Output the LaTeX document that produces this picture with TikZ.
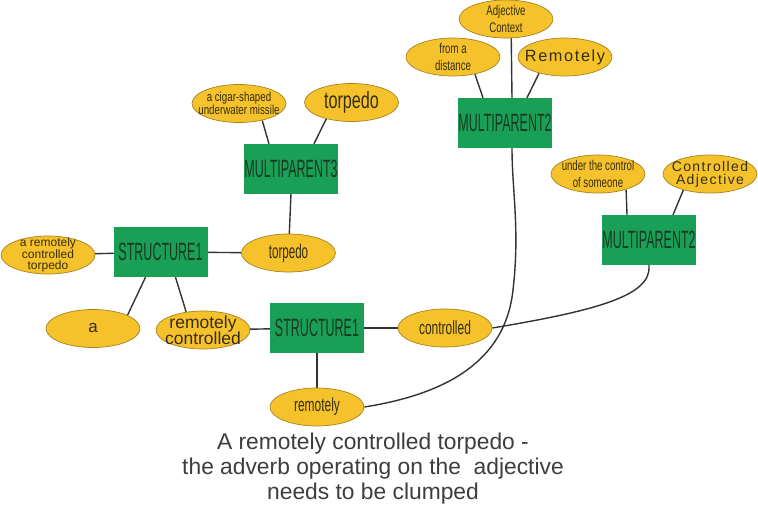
\documentclass[tikz,border=0pt]{standalone}
\usepackage{fontspec}
\setmainfont{Liberation Sans}
\newfontfamily\nA[FakeStretch=0.5]{Liberation Sans}
\newfontfamily\nB[FakeStretch=0.58]{Liberation Sans}
\newfontfamily\nC[FakeStretch=0.63]{Liberation Sans}
\newfontfamily\nD[FakeStretch=0.69]{Liberation Sans}
\newfontfamily\nE[FakeStretch=0.75]{Liberation Sans}
\newfontfamily\wideLS[LetterSpace=10]{Liberation Sans}
\usetikzlibrary{shapes.geometric,backgrounds}
\definecolor{boxgreen}{HTML}{1A9F56}
\definecolor{boxtext}{HTML}{183A22}
\definecolor{ellfill}{HTML}{F5C22C}
\definecolor{elldraw}{HTML}{A5821E}
\definecolor{elltext}{HTML}{362E0E}
\definecolor{linec}{HTML}{333333}
\definecolor{captext}{HTML}{3D3D3D}
\begin{document}
\begin{tikzpicture}[x=1pt,y=-1pt,
  box/.style={rectangle, fill=boxgreen, minimum width=94pt, minimum height=50pt, inner sep=0pt, text=boxtext, font=\nA\fontsize{25}{25}\selectfont},
  ell/.style={ellipse, fill=ellfill, draw=elldraw, line width=0.7pt, minimum width=94pt, minimum height=38pt, inner sep=-30pt, text=elltext, align=center},
  link/.style={draw=linec, line width=1.4pt}]
\useasboundingbox (0,0) rectangle (758,515);
% boxes
\node[box] (S1L) at (160.5,252) {STRUCTURE1};
\node[box] (MP3) at (291,169) {MULTIPARENT3};
\node[box] (MP2a) at (505,123) {MULTIPARENT2};
\node[box] (MP2b) at (649,240) {MULTIPARENT2};
\node[box] (S1B) at (317,328) {STRUCTURE1};
% ellipses
\node[ell, font=\fontsize{12}{11.5}\selectfont] (L1) at (48,255) {a remotely\\controlled\\torpedo};
\node[ell, font=\fontsize{17}{17}\selectfont] (A) at (93,328.5) {a};
\node[ell, font=\fontsize{17.5}{16.5}\selectfont] (RC) at (203,330) {remotely\\controlled};
\node[ell, font=\nB\fontsize{20}{20}\selectfont] (TM) at (288.5,253) {torpedo};
\node[ell, font=\nE\fontsize{13}{13}\selectfont] (CIG) at (239,103.5) {a cigar-shaped\\underwater missile};
\node[ell, font=\nD\fontsize{23.5}{23.5}\selectfont] (TT) at (351.5,102.5) {torpedo};
\node[ell, font=\nD\fontsize{14}{17}\selectfont] (AC) at (506,19) {Adjective\\Context};
\node[ell, font=\nD\fontsize{14}{17}\selectfont] (FD) at (453,57) {from a\\distance};
\node[ell, font=\wideLS\fontsize{16.3}{16.3}\selectfont] (REM) at (565,57) {Remotely};
\node[ell, font=\nD\fontsize{14}{16.5}\selectfont] (UC) at (598,174) {under the control\\of someone};
\node[ell, font=\wideLS\fontsize{14}{13}\selectfont] (CA) at (710,174) {Controlled\\Adjective};
\node[ell, font=\nC\fontsize{19}{19}\selectfont] (CTL) at (445,328) {controlled};
\node[ell, font=\nC\fontsize{19}{19}\selectfont] (REMB) at (317,407) {remotely};
% caption
\node[align=center, text=captext, font=\fontsize{22.8}{25}\selectfont] (CAP) at (373,469) {A remotely controlled torpedo -\\the adverb operating on the\ \ adjective\\needs to be clumped};
% connectors
\begin{scope}[on background layer]
\fill[white] (0,0) rectangle (758,515);
\draw[link] (L1.center) -- (S1L.center);
\draw[link] (S1L.center) -- (TM.center);
\draw[link] ([xshift=-15pt]S1L.south) -- (A.21);
\draw[link] ([xshift=15pt]S1L.south) -- (RC.133);
\draw[link] (RC.center) -- (S1B.center);
\draw[link] (S1B.center) -- (CTL.center);
\draw[link] (S1B.center) -- (REMB.center);
\draw[link] ([xshift=1pt]MP3.center) -- (TM.center);
\draw[link] ([xshift=-22pt]MP3.north) -- (CIG.-36);
\draw[link] ([xshift=23pt]MP3.north) -- (TT.-147);
\draw[link] ([xshift=-22pt]MP2a.north) -- (FD.-38);
\draw[link] ([xshift=7pt]MP2a.north) -- ([xshift=5pt]AC.center);
\draw[link] ([xshift=22pt]MP2a.north) -- (REM.-148);
\draw[link] ([xshift=-22pt]MP2b.north) -- (UC.-29);
\draw[link] ([xshift=24pt]MP2b.north) -- (CA.-149);
\draw[link] (CTL.east) .. controls (600,310) and (652,295) .. (MP2b.south);
\draw[link] (REMB.east) .. controls (440,395) and (505,365) .. (513,290) .. controls (520,230) and (512,190) .. ([xshift=7pt]MP2a.south);
\end{scope}
\end{tikzpicture}
\end{document}
